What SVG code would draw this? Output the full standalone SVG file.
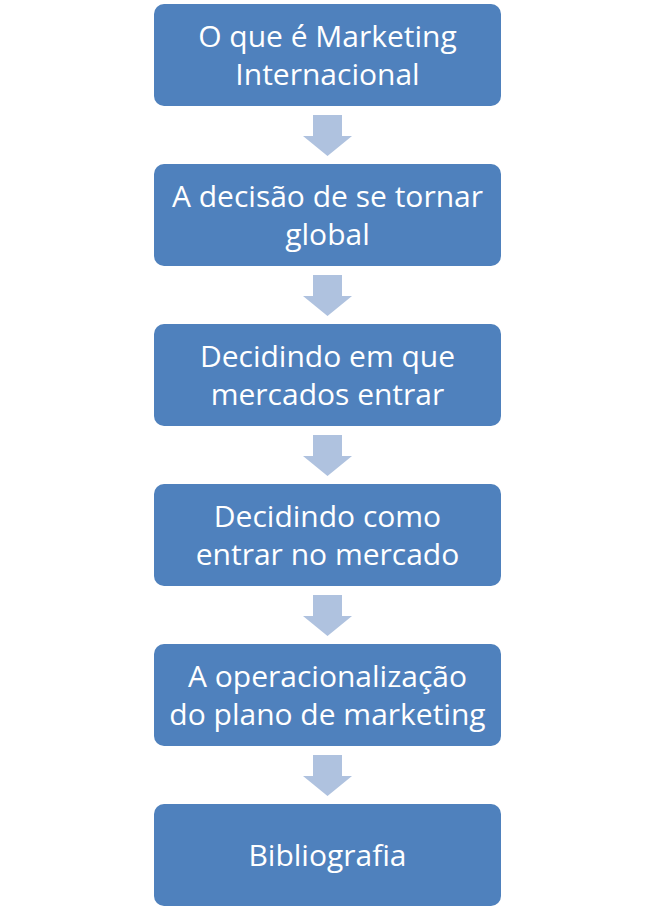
<svg xmlns="http://www.w3.org/2000/svg" width="655" height="910" viewBox="0 0 655 910">
<style>
.box{fill:#4F81BD}
.arr{fill:#AFC2DF}
.t{font-family:"Open Sans","Noto Sans",sans-serif;font-size:30px;fill:#FFFFFF;text-anchor:middle}
</style>
<defs>
<path id="ar" d="M313,115 H342 V136 H352 L327.5,156 L303,136 H313 Z"/>
</defs>
<rect width="655" height="910" fill="#FFFFFF"/>
<g id="connectors">
<use href="#ar" class="arr"/>
<use href="#ar" class="arr" y="160"/>
<use href="#ar" class="arr" y="320"/>
<use href="#ar" class="arr" y="480"/>
<use href="#ar" class="arr" y="640"/>
</g>
<g id="n1"><rect class="box" x="154" y="4" width="347" height="102" rx="10"/><text class="t" x="327.5" y="47">O que é Marketing</text><text class="t" x="327.5" y="85">Internacional</text></g>
<g id="n2"><rect class="box" x="154" y="164" width="347" height="102" rx="10"/><text class="t" x="327.5" y="207">A decisão de se tornar</text><text class="t" x="327.5" y="245">global</text></g>
<g id="n3"><rect class="box" x="154" y="324" width="347" height="102" rx="10"/><text class="t" x="327.5" y="367">Decidindo em que</text><text class="t" x="327.5" y="405">mercados entrar</text></g>
<g id="n4"><rect class="box" x="154" y="484" width="347" height="102" rx="10"/><text class="t" x="327.5" y="527">Decidindo como</text><text class="t" x="327.5" y="565">entrar no mercado</text></g>
<g id="n5"><rect class="box" x="154" y="644" width="347" height="102" rx="10"/><text class="t" x="327.5" y="687">A operacionalização</text><text class="t" x="327.5" y="725">do plano de marketing</text></g>
<g id="n6"><rect class="box" x="154" y="804" width="347" height="102" rx="10"/><text class="t" x="327.5" y="866">Bibliografia</text></g>
</svg>
